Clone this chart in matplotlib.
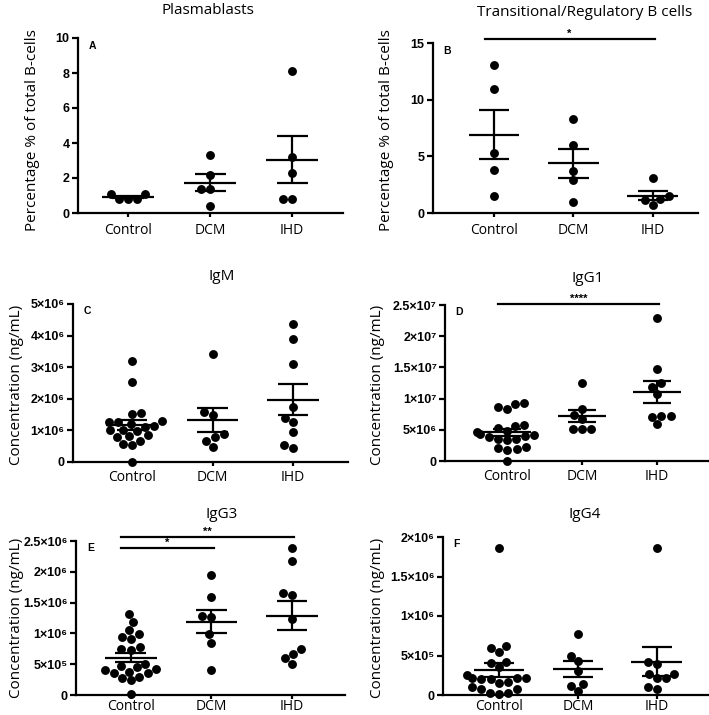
import matplotlib
matplotlib.use("Agg")
import matplotlib.pyplot as plt
import numpy as np
import pandas as pd
import seaborn as sns


GROUPS = ["Control", "DCM", "IHD"]

# Plasmablasts, % of total B-cells
plasma_control = [1.08, 0.8, 0.8, 0.8, 1.08]
plasma_dcm = [3.3, 2.2, 1.4, 1.35, 0.4]
plasma_ihd = [8.1, 3.2, 2.3, 0.8, 0.8]

# Transitional/Regulatory B cells, % of total B-cells
breg_control = [13.1, 10.9, 5.3, 3.8, 1.5]
breg_dcm = [8.3, 6.0, 3.7, 2.9, 1.0]
breg_ihd = [3.1, 1.5, 1.2, 1.15, 0.7]

# concentrations below are in units of 1e6 ng/mL
igm_control = [3.2, 2.54, 1.54, 1.52, 1.3, 1.28, 1.26, 1.2, 1.15, 1.12,
               1.02, 1.0, 0.98, 0.84, 0.82, 0.8, 0.66, 0.58, 0.55, 0.0]
igm_dcm = [3.41, 1.59, 1.49, 0.88, 0.78, 0.67, 0.46]
igm_ihd = [4.37, 3.9, 3.09, 1.74, 1.4, 1.26, 0.95, 0.55, 0.45]

igg1_control = [9.3, 9.2, 8.6, 8.4, 5.8, 5.6, 5.3, 4.8, 4.6, 4.4, 4.2,
                4.0, 3.8, 3.6, 3.5, 3.3, 2.2, 2.1, 1.9, 1.8, 0.0]
igg1_dcm = [12.5, 8.4, 7.4, 6.8, 5.2, 5.1, 5.2]
igg1_ihd = [22.9, 14.7, 12.45, 11.9, 10.7, 7.2, 7.2, 7.1, 5.9]

igg3_control = [1.31, 1.18, 1.05, 0.99, 0.94, 0.91, 0.78, 0.74, 0.73, 0.5, 0.47,
                0.45, 0.42, 0.4, 0.38, 0.36, 0.35, 0.3, 0.27, 0.24, 0.01]
igg3_dcm = [1.95, 1.59, 1.29, 1.27, 0.99, 0.85, 0.4]
igg3_ihd = [2.38, 2.18, 1.66, 1.62, 1.24, 0.74, 0.67, 0.6, 0.51]

igg4_control = [1.86, 0.62, 0.6, 0.55, 0.42, 0.41, 0.35, 0.25, 0.22, 0.22, 0.21,
                0.2, 0.2, 0.16, 0.15, 0.1, 0.08, 0.07, 0.03, 0.02, 0.01]
igg4_dcm = [0.77, 0.5, 0.43, 0.3, 0.14, 0.12, 0.05]
igg4_ihd = [1.86, 0.42, 0.39, 0.27, 0.27, 0.21, 0.21, 0.1, 0.08]

PCT_LABEL = "Percentage % of total B-cells"
CONC_LABEL = "Concentration (ng/mL)"

A_TICKS = [0, 2, 4, 6, 8, 10]
A_TICKLABELS = ["0", "2", "4", "6", "8", "10"]
B_TICKS = [0, 5, 10, 15]
B_TICKLABELS = ["0", "5", "10", "15"]
C_TICKS = [0, 1, 2, 3, 4, 5]
C_TICKLABELS = ["0", "1×10⁶", "2×10⁶", "3×10⁶", "4×10⁶", "5×10⁶"]
D_TICKS = [0, 5, 10, 15, 20, 25]
D_TICKLABELS = ["0", "5×10⁶", "1×10⁷", "1.5×10⁷", "2×10⁷", "2.5×10⁷"]
E_TICKS = [0, 0.5, 1.0, 1.5, 2.0, 2.5]
E_TICKLABELS = ["0", "5×10⁵", "1×10⁶", "1.5×10⁶", "2×10⁶", "2.5×10⁶"]
F_TICKS = [0, 0.5, 1.0, 1.5, 2.0]
F_TICKLABELS = ["0", "5×10⁵", "1×10⁶", "1.5×10⁶", "2×10⁶"]

# significance bars: (from group, to group, y level, label)
B_SIG = [(0, 2, 15.35, "*")]
D_SIG = [(0, 2, 25.15, "****")]
E_SIG = [(0, 1, 2.39, "*"), (0, 2, 2.565, "**")]

W, H = 709, 715
TEXT_FONT = "Open Sans"
TICK_FONT = "Liberation Sans"


def px_axes(fig, x1, y1, x2, y2):
    return fig.add_axes([x1 / W, 1 - y2 / H, (x2 - x1) / W, (y2 - y1) / H])


def draw_panel(ax, series, ticks, ticklabels, xlim, letter, sig=(), xpad=2):
    df = pd.DataFrame({
        "group": [g for g, vals in zip(GROUPS, series) for _ in vals],
        "value": [v for vals in series for v in vals],
    })
    sns.swarmplot(data=df, x="group", y="value", order=GROUPS, color="black",
                  size=6.4, ax=ax, clip_on=False, zorder=2, warn_thresh=1)

    for i, vals in enumerate(series):
        vals = np.asarray(vals, dtype=float)
        mean = vals.mean()
        sem = vals.std(ddof=1) / np.sqrt(len(vals))
        ax.hlines(mean, i - 0.32, i + 0.32, color="black", lw=1.6, zorder=3)
        ax.hlines([mean - sem, mean + sem], i - 0.19, i + 0.19, color="black", lw=1.6, zorder=3)
        ax.vlines(i, mean - sem, mean + sem, color="black", lw=1.6, zorder=3)

    for g1, g2, y, label in sig:
        ax.plot([g1 - 0.12, g2 + 0.03], [y, y], color="black", lw=1.6, clip_on=False)
        ax.text((g1 + g2) / 2 - 0.05, y, label, ha="center", va="bottom",
                fontsize=8, fontweight="bold", family=TICK_FONT)

    ax.set_ylim(ticks[0], ticks[-1])
    ax.set_xlim(*xlim)
    ax.set_yticks(ticks)
    ax.set_yticklabels(ticklabels, fontsize=9, fontweight="bold", family=TICK_FONT)
    ax.set_xticks(range(len(GROUPS)))
    ax.set_xticklabels(GROUPS, fontsize=10, family=TEXT_FONT)
    ax.set_xlabel("")
    ax.set_ylabel("")
    for side in ["top", "right"]:
        ax.spines[side].set_visible(False)
    for side in ["left", "bottom"]:
        ax.spines[side].set_linewidth(1.6)
    ax.tick_params(axis="y", width=1.6, length=4, pad=2)
    ax.tick_params(axis="x", width=1.6, length=3, pad=xpad)
    ax.text(0.04, 0.985, letter, transform=ax.transAxes, fontsize=7.5,
            fontweight="bold", family=TICK_FONT, va="top", ha="left")


fig = plt.figure(figsize=(W / 100, H / 100), dpi=100)

ax_a = px_axes(fig, 78, 38, 343, 213)
draw_panel(ax_a, [plasma_control, plasma_dcm, plasma_ihd], A_TICKS, A_TICKLABELS, (-0.61, 2.62), "A", xpad=4)

ax_b = px_axes(fig, 433, 43, 698, 213)
draw_panel(ax_b, [breg_control, breg_dcm, breg_ihd], B_TICKS, B_TICKLABELS, (-0.77, 2.57), "B", B_SIG, xpad=4)

ax_c = px_axes(fig, 73, 304, 348, 462)
draw_panel(ax_c, [igm_control, igm_dcm, igm_ihd], C_TICKS, C_TICKLABELS, (-0.73, 2.68), "C", xpad=3)

ax_d = px_axes(fig, 445, 305, 708, 461)
draw_panel(ax_d, [igg1_control, igg1_dcm, igg1_ihd], D_TICKS, D_TICKLABELS, (-0.83, 2.68), "D", D_SIG, xpad=3)

ax_e = px_axes(fig, 76, 541, 345, 695)
draw_panel(ax_e, [igg3_control, igg3_dcm, igg3_ihd], E_TICKS, E_TICKLABELS, (-0.68, 2.66), "E", E_SIG, xpad=0)

ax_f = px_axes(fig, 443, 537, 708, 695)
draw_panel(ax_f, [igg4_control, igg4_dcm, igg4_ihd], F_TICKS, F_TICKLABELS, (-0.71, 2.65), "F", xpad=0)

# titles and y labels placed in pixel coords
titles = [("Plasmablasts", 208, 10), ("Transitional/Regulatory B cells", 585, 12),
          ("IgM", 222, 277), ("IgG1", 588, 279), ("IgG3", 222, 514), ("IgG4", 585, 514)]
for text, x, y in titles:
    fig.text(x / W, 1 - y / H, text, ha="center", va="center", fontsize=11, family=TEXT_FONT)

ylabels = [(PCT_LABEL, 33, 130), (PCT_LABEL, 387, 130),
           (CONC_LABEL, 17, 385), (CONC_LABEL, 378, 385),
           (CONC_LABEL, 17, 618), (CONC_LABEL, 378, 618)]
for text, x, y in ylabels:
    fig.text(x / W, 1 - y / H, text, ha="center", va="center", rotation=90,
             fontsize=11, family=TEXT_FONT)

fig.savefig("out.png", dpi=100)
